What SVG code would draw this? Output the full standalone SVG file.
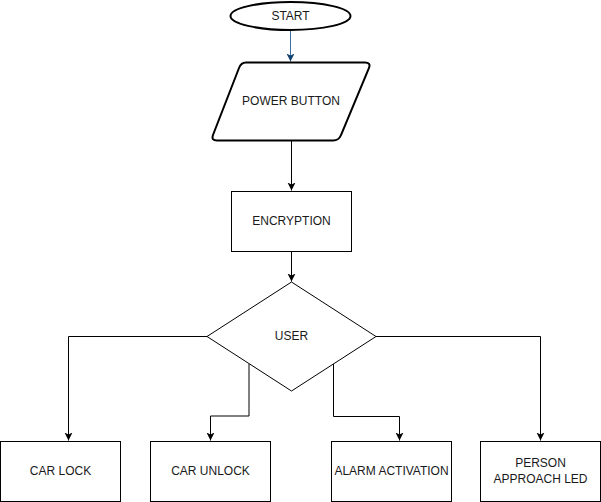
<svg xmlns="http://www.w3.org/2000/svg" width="601" height="502" viewBox="0 0 601 502">
<style>
.s{fill:#fff;stroke:#000;stroke-width:1}
.w{fill:#fff;stroke:#000;stroke-width:2}
.t{font-family:"Liberation Sans",Arial,sans-serif;font-size:12px;fill:#1a1a1a;text-anchor:middle}
.c{fill:none;stroke:#000;stroke-width:1}
</style>
<defs>
<marker id="a" markerUnits="userSpaceOnUse" markerWidth="10" markerHeight="10" refX="8" refY="4" orient="auto"><path d="M0,0 L8,4 L0,8 L2,4 Z" fill="#000"/></marker>
<marker id="b" markerUnits="userSpaceOnUse" markerWidth="10" markerHeight="10" refX="8" refY="4" orient="auto"><path d="M0,0 L8,4 L0,8 L2,4 Z" fill="#12406f"/></marker>
</defs>
<rect width="601" height="502" fill="#fff"/>
<g id="connectors">
<path d="M290.5,30.5 V61.5" fill="none" stroke="#3a6ea5" stroke-width="1" marker-end="url(#b)"/>
<path class="c" d="M291.5,140.5 V190.5" marker-end="url(#a)"/>
<path class="c" d="M291.5,251.5 V281.5" marker-end="url(#a)"/>
<path class="c" d="M207,336.5 H68.5 V440.5" marker-end="url(#a)"/>
<path class="c" d="M249,364 V416 H210.5 V440.5" marker-end="url(#a)"/>
<path class="c" d="M333.5,364 V416.5 H399.5 V440.5" marker-end="url(#a)"/>
<path class="c" d="M376,336.5 H540.5 V440.5" marker-end="url(#a)"/>
</g>
<g id="start">
<ellipse class="w" cx="290.5" cy="16" rx="60" ry="14"/>
<text class="t" x="290.5" y="20">START</text>
</g>
<g id="power">
<path class="w" d="M246,62.5 H365 Q371,62.5 369,68 L341,135 Q339,140.5 333,140.5 H217 Q211,140.5 213,135 L239,68 Q241,62.5 246,62.5 Z"/>
<text class="t" x="291" y="105">POWER BUTTON</text>
</g>
<g id="encryption">
<rect class="s" x="231.5" y="191.5" width="120" height="60"/>
<text class="t" x="291.5" y="225">ENCRYPTION</text>
</g>
<g id="user">
<path class="s" d="M291.5,282 L376,336.5 L291.5,391 L207,336.5 Z"/>
<text class="t" x="291.5" y="340">USER</text>
</g>
<g id="carlock">
<rect class="s" x="0.5" y="441.5" width="120" height="60"/>
<text class="t" x="60.5" y="475">CAR LOCK</text>
</g>
<g id="carunlock">
<rect class="s" x="150.5" y="441.5" width="120" height="60"/>
<text class="t" x="210.5" y="475">CAR UNLOCK</text>
</g>
<g id="alarm">
<rect class="s" x="331.5" y="441.5" width="120" height="60"/>
<text class="t" x="391.5" y="475">ALARM ACTIVATION</text>
</g>
<g id="person">
<rect class="s" x="480.5" y="441.5" width="120" height="60"/>
<text class="t" x="540.5" y="467">PERSON</text>
<text class="t" x="540.5" y="483">APPROACH LED</text>
</g>
</svg>
